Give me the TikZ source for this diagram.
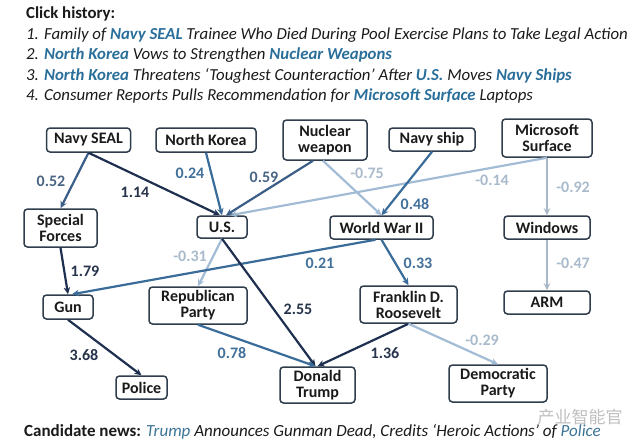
\documentclass[tikz,border=0pt]{standalone}
\usepackage{fontspec}
\setmainfont{Carlito}
\newfontfamily\cjkfont{Noto Sans CJK SC}
\usetikzlibrary{arrows.meta}
\definecolor{dk}{HTML}{1E2F4F}
\definecolor{md}{HTML}{3A6C9A}
\definecolor{mdk}{HTML}{3B5E88}
\definecolor{lt}{HTML}{A3BCD6}
\definecolor{lg}{HTML}{A9B8C7}
\definecolor{ldk}{HTML}{26334B}
\definecolor{lmd}{HTML}{41709A}
\definecolor{lmdk}{HTML}{4A6483}
\definecolor{llt}{HTML}{A9BACC}
\definecolor{nodeb}{HTML}{2F3D4C}
\definecolor{hl}{HTML}{2A6E9A}
\definecolor{hl2}{HTML}{3C7496}
\definecolor{txt}{HTML}{1A1A1A}
\newcommand{\hlw}[1]{{\color{hl}\bfseries #1}}
\newcommand{\hlc}[1]{{\color{hl2}#1}}
\begin{document}
\begin{tikzpicture}[x=1pt,y=-1pt,
  box/.style={draw=nodeb, line width=1.5pt, rounded corners=3.5pt, fill=white,
    font=\fontsize{16}{16}\selectfont\bfseries, text=txt, align=center, inner sep=0pt},
  edge/.style={line width=2.2pt, -{Stealth[length=7pt,width=6.5pt]}},
  lbl/.style={font=\fontsize{16}{16}\selectfont\bfseries, inner sep=0pt},
  hist/.style={anchor=base west, inner sep=0pt, font=\fontsize{16.8}{17}\selectfont, text=txt}]
\useasboundingbox (0,0) rectangle (640,447);
% header
\node[hist] (h0) at (26,19) {\bfseries Click history:};
\node[hist] (h1) at (26,39) {\itshape 1. Family of \hlw{Navy SEAL} Trainee Who Died During Pool Exercise Plans to Take Legal Action};
\node[hist] (h2) at (26,59.5) {\itshape 2. \hlw{North Korea} Vows to Strengthen \hlw{Nuclear Weapons}};
\node[hist] (h3) at (26,80) {\itshape 3. \hlw{North Korea} Threatens ‘Toughest Counteraction’ After \hlw{U.S.} Moves \hlw{Navy Ships}};
\node[hist] (h4) at (26,100) {\itshape 4. Consumer Reports Pulls Recommendation for \hlw{Microsoft Surface} Laptops};
\node[hist, font=\fontsize{17}{17}\selectfont] (cand) at (24,436) {\bfseries Candidate news: \mdseries\itshape\hlc{Trump} Announces Gunman Dead, Credits ‘Heroic Actions’ of \hlc{Police}};
\node[anchor=center, inner sep=0pt, font=\fontsize{17}{17}\cjkfont, text=black!25] (wm) at (580,417) {产业智能官};
% nodes
\node[box, minimum width=84, minimum height=24] (seal) at (88.5,140) {Navy SEAL};
\node[box, minimum width=100, minimum height=24] (nk) at (206,140) {North Korea};
\node[box, minimum width=84, minimum height=40] (nuc) at (325,140) {Nuclear\\weapon};
\node[box, minimum width=86, minimum height=23] (ship) at (432,139.5) {Navy ship};
\node[box, minimum width=90, minimum height=38] (ms) at (547,138) {Microsoft\\Surface};
\node[box, minimum width=73, minimum height=38] (sf) at (60.5,228) {Special\\Forces};
\node[box, minimum width=50, minimum height=22] (us) at (222,227) {U.S.};
\node[box, minimum width=103, minimum height=23] (ww) at (381.5,227.5) {World War II};
\node[box, minimum width=86, minimum height=23] (win) at (547,227.5) {Windows};
\node[box, minimum width=50, minimum height=24] (gun) at (68,307) {Gun};
\node[box, minimum width=98, minimum height=37] (rep) at (198,305.5) {Republican\\Party};
\node[box, minimum width=97, minimum height=37] (fdr) at (408.5,304.5) {Franklin D.\\Roosevelt};
\node[box, minimum width=86, minimum height=23] (arm) at (547,302.5) {ARM};
\node[box, minimum width=51, minimum height=23] (pol) at (141.5,387.5) {Police};
\node[box, minimum width=75, minimum height=36] (dt) at (317.5,385) {Donald\\Trump};
\node[box, minimum width=98, minimum height=37] (dem) at (498,383.5) {Democratic\\Party};
% edges
\draw[edge,lt] (ms.south) -- ([xshift=8]us.north);
\draw[edge,lt] ([xshift=-2]nuc.south) -- (ww.north);
\draw[edge,md] (ship.south) -- (ww.north);
\draw[edge,mdk] (seal.south) -- (sf.north);
\draw[edge,dk] (seal.south) -- ([xshift=-2]us.north);
\draw[edge,md] (nk.south) -- (us.north);
\draw[edge,mdk] ([xshift=-12]nuc.south) -- ([xshift=4]us.north);
\draw[edge,lg] (ms.south) -- (win.north);
\draw[edge,lg] (win.south) -- (arm.north);
\draw[edge,dk] (sf.south) -- (gun.north);
\draw[edge,lt] (us.south) -- (rep.north);
\draw[edge,md] ([xshift=-6]ww.south) -- ([xshift=4]gun.north);
\draw[edge,dk] (us.south) -- ([xshift=-2]dt.north);
\draw[edge,md] (ww.south) -- (fdr.north);
\draw[edge,dk] (gun.south) -- (pol.north);
\draw[edge,md] (rep.south) -- ([xshift=-2]dt.north);
\draw[edge,dk] (fdr.south) -- (dt.north);
\draw[edge,lt] (fdr.south) -- (dem.north);
% labels
\node[lbl,text=lmdk] (l1) at (51,181) {0.52};
\node[lbl,text=ldk] (l2) at (135,192) {1.14};
\node[lbl,text=lmd] (l3) at (190,173) {0.24};
\node[lbl,text=lmdk] (l4) at (264,177) {0.59};
\node[lbl,text=llt] (l5) at (367,173) {-0.75};
\node[lbl,text=llt] (l6) at (492,180) {-0.14};
\node[lbl,text=llt] (l7) at (573,187) {-0.92};
\node[lbl,text=lmd] (l8) at (415,204) {0.48};
\node[lbl,text=llt] (l9) at (190,256) {-0.31};
\node[lbl,text=lmd] (l10) at (320,263) {0.21};
\node[lbl,text=lmd] (l11) at (418,263) {0.33};
\node[lbl,text=llt] (l12) at (573,263) {-0.47};
\node[lbl,text=ldk] (l13) at (85,271) {1.79};
\node[lbl,text=ldk] (l14) at (298,309) {2.55};
\node[lbl,text=lmd] (l15) at (232,353) {0.78};
\node[lbl,text=ldk] (l16) at (84,355) {3.68};
\node[lbl,text=ldk] (l17) at (385,353) {1.36};
\node[lbl,text=llt] (l18) at (482,340) {-0.29};
\end{tikzpicture}
\end{document}
